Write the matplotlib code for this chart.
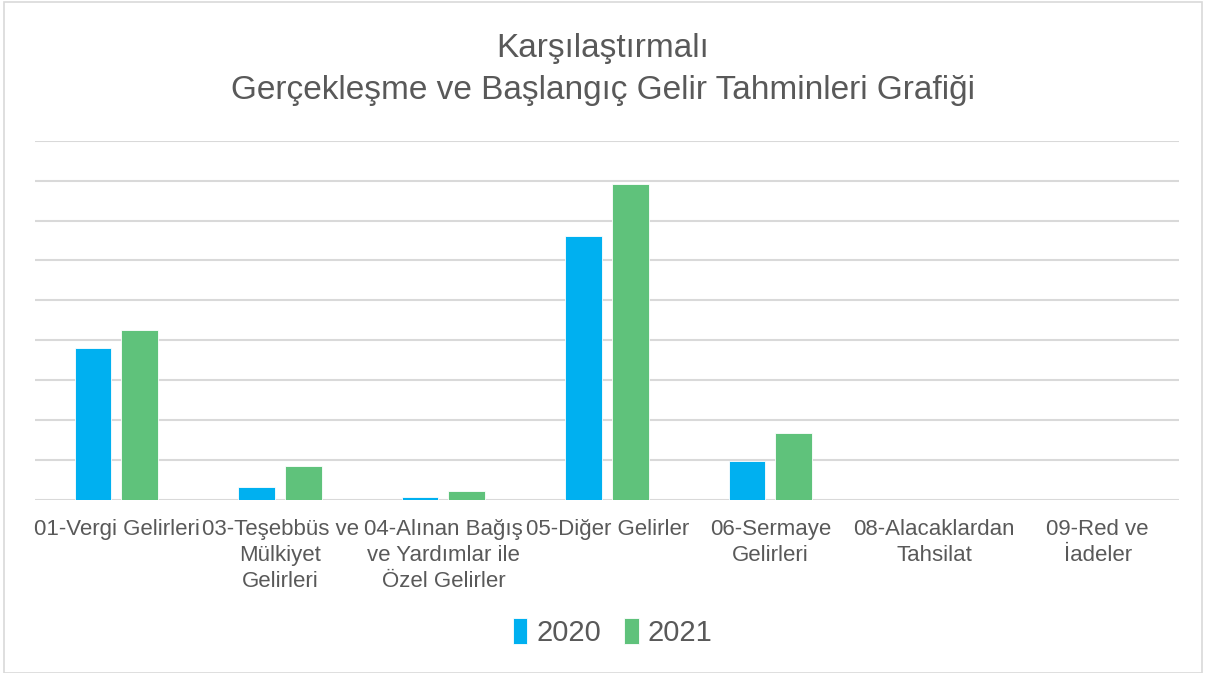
import matplotlib.pyplot as plt
import numpy as np
from matplotlib import font_manager
from matplotlib.patches import Rectangle

categories = [
    '01-Vergi Gelirleri',
    '03-Teşebbüs ve\nMülkiyet\nGelirleri',
    '04-Alınan Bağış\nve Yardımlar ile\nÖzel Gelirler',
    '05-Diğer Gelirler',
    '06-Sermaye\nGelirleri',
    '08-Alacaklardan\nTahsilat',
    '09-Red ve\nİadeler',
]
values_2020 = [3.81, 0.32, 0.085, 6.62, 0.98, 0.0, 0.0]
values_2021 = [4.27, 0.86, 0.23, 7.92, 1.69, 0.0, 0.0]
series_names = ['2020', '2021']

BLUE = '#00B0F0'
GREEN = '#5FC27B'
TEXT = '#595959'

names = {f.name for f in font_manager.fontManager.ttflist}
font = 'Liberation Sans Narrow' if 'Liberation Sans Narrow' in names else 'Liberation Sans'
plt.rcParams['font.family'] = [font, 'DejaVu Sans']

fig = plt.figure(figsize=(12.06, 6.73), dpi=100)
fig.patches.append(Rectangle((0.003, 0.0), 0.994, 0.997, transform=fig.transFigure,
                             fill=False, edgecolor='#d9d9d9', linewidth=1.2))

ax = fig.add_axes([0.029, 0.257, 0.949, 0.534])
x = np.arange(len(categories))
w = 0.226
ax.bar(x - 0.145, values_2020, w, color=BLUE, edgecolor='white', linewidth=0.6, label=series_names[0], zorder=3)
ax.bar(x + 0.142, values_2021, w, color=GREEN, edgecolor='white', linewidth=0.6, label=series_names[1], zorder=3)

ax.set_xlim(-0.5, len(categories) - 0.5)
ax.set_ylim(0, 9)
ax.set_yticks(np.arange(0, 10))
ax.yaxis.grid(True, color='#d9d9d9', linewidth=1.5, zorder=0)
ax.tick_params(axis='y', left=False, labelleft=False)
ax.tick_params(axis='x', length=0, pad=14)
ax.set_xticks(x)
ax.set_xticklabels(categories, fontsize=16, color=TEXT, linespacing=1.3)
for s in ax.spines.values():
    s.set_visible(False)

fig.text(0.5, 0.928, 'Karşılaştırmalı', ha='center', va='center', fontsize=24, color=TEXT)
fig.text(0.5, 0.866, 'Gerçekleşme ve Başlangıç Gelir Tahminleri Grafiği', ha='center', va='center',
         fontsize=24, color=TEXT)

leg = fig.legend(loc='center', bbox_to_anchor=(0.508, 0.06), ncol=2, frameon=False,
                 fontsize=21, handlelength=0.5, handleheight=1.0, handletextpad=0.3, columnspacing=0.8)
for t in leg.get_texts():
    t.set_color(TEXT)

fig.savefig('out.png', dpi=100)
